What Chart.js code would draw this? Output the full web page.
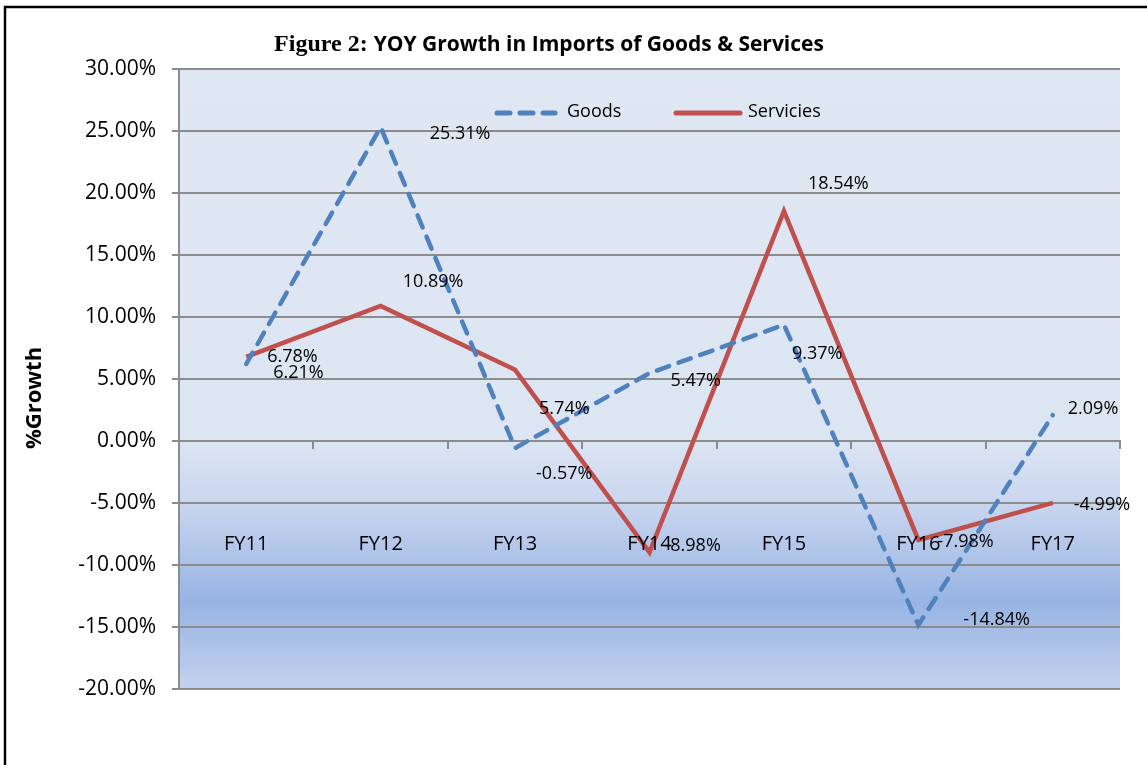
<!DOCTYPE html>
<html>
<head>
<meta charset="utf-8">
<script src="https://cdn.jsdelivr.net/npm/chart.js@4.4.1/dist/chart.umd.min.js"></script>
<style>
  html, body { margin: 0; padding: 0; background: #fff; }
  #wrap { width: 1147px; height: 765px; }
</style>
</head>
<body>
<div id="wrap"><canvas id="growthChart" width="1147" height="765"></canvas></div>
<script>
// data
const years = ["FY11", "FY12", "FY13", "FY14", "FY15", "FY16", "FY17"];
const goods = [6.21, 25.31, -0.57, 5.47, 9.37, -14.84, 2.09];
const services = [6.78, 10.89, 5.74, -8.98, 18.54, -7.98, -4.99];

// where each value label sits, relative to its point (left edge, middle)
const goodsLabelPos = [[27, 9], [49, 7], [21, 26], [21, 8], [8, 29], [45, -5], [15, -6]];
const servicesLabelPos = [[21, 0], [22, -24], [24, 39], [15, -6], [24, -27], [19, 2], [21, 2]];

const BLUE = "#4f81bd";
const RED = "#c0504d";
const GRID = "#8c8c8c";
const SANS = "'Open Sans', sans-serif";

const pct = v => v.toFixed(2) + "%";

const decor = {
    id: "decor",
    beforeDraw(chart) {
        const { ctx, chartArea: a } = chart;
        ctx.save();
        ctx.fillStyle = "#fff";
        ctx.fillRect(0, 0, chart.width, chart.height);
        // outer frame, runs off the right and bottom edges
        ctx.strokeStyle = "#000";
        ctx.lineWidth = 2.5;
        ctx.strokeRect(5, 7, chart.width + 20, chart.height + 20);
        // plot area fill
        const g = ctx.createLinearGradient(0, a.top, 0, a.bottom);
        g.addColorStop(0, "#dfe7f3");
        g.addColorStop(0.6, "#dce5f2");
        g.addColorStop(0.7, "#c9d6ef");
        g.addColorStop(0.86, "#97b4e3");
        g.addColorStop(1, "#c4d2ee");
        ctx.fillStyle = g;
        ctx.fillRect(a.left, a.top, a.right - a.left, a.bottom - a.top);
        ctx.restore();
    },
    afterDatasetsDraw(chart) {
        const { ctx } = chart;
        ctx.save();

        // value labels
        ctx.fillStyle = "#000";
        ctx.font = "18px " + SANS;
        ctx.textAlign = "left";
        ctx.textBaseline = "middle";
        const sets = [goodsLabelPos, servicesLabelPos];
        chart.data.datasets.forEach((ds, i) => {
            chart.getDatasetMeta(i).data.forEach((pt, j) => {
                const off = sets[i][j];
                ctx.fillText(pct(ds.data[j]), pt.x + off[0], pt.y + off[1]);
            });
        });

        // title: serif part then sans part
        ctx.textBaseline = "alphabetic";
        const part1 = "Figure 2: ";
        const part2 = "YOY Growth in Imports of Goods & Services";
        ctx.font = "bold 24px 'Liberation Serif', serif";
        const w1 = ctx.measureText(part1).width;
        ctx.font = "bold 21px " + SANS;
        const w2 = ctx.measureText(part2).width;
        let tx = 549 - (w1 + w2) / 2;
        ctx.font = "bold 24px 'Liberation Serif', serif";
        ctx.fillText(part1, tx, 51);
        ctx.font = "bold 21px " + SANS;
        ctx.fillText(part2, tx + w1, 51);

        // y axis title
        ctx.save();
        ctx.translate(35, 398);
        ctx.rotate(-Math.PI / 2);
        ctx.textAlign = "center";
        ctx.textBaseline = "middle";
        ctx.font = "bold 22px " + SANS;
        ctx.fillText("%Growth", 0, 0);
        ctx.restore();

        // legend
        ctx.lineWidth = 5;
        ctx.lineCap = "round";
        ctx.strokeStyle = chart.data.datasets[0].borderColor;
        ctx.setLineDash([13, 10]);
        ctx.beginPath();
        ctx.moveTo(497, 113);
        ctx.lineTo(555, 113);
        ctx.stroke();
        ctx.setLineDash([]);
        ctx.strokeStyle = chart.data.datasets[1].borderColor;
        ctx.beginPath();
        ctx.moveTo(676, 113);
        ctx.lineTo(740, 113);
        ctx.stroke();
        ctx.font = "18px " + SANS;
        ctx.textBaseline = "middle";
        ctx.fillText(chart.data.datasets[0].label, 567, 112);
        ctx.fillText(chart.data.datasets[1].label, 748, 112);

        ctx.restore();
    }
};

new Chart(document.getElementById("growthChart"), {
    type: "line",
    data: {
        labels: years,
        datasets: [
            {
                label: "Goods",
                data: goods,
                borderColor: BLUE,
                borderWidth: 4.5,
                borderDash: [13, 10],
                borderCapStyle: "round",
                pointRadius: 0,
                tension: 0,
                fill: false
            },
            {
                label: "Servicies",
                data: services,
                borderColor: RED,
                borderWidth: 4.5,
                borderJoinStyle: "miter",
                pointRadius: 0,
                tension: 0,
                fill: false
            }
        ]
    },
    options: {
        responsive: false,
        animation: false,
        layout: { padding: { left: 0, top: 69, right: 27, bottom: 76 } },
        plugins: {
            legend: { display: false },
            title: { display: false },
            tooltip: { enabled: false }
        },
        scales: {
            x: {
                type: "category",
                offset: true,
                position: { y: 0 },
                afterFit: s => { s.paddingLeft = 0; s.paddingRight = 0; },
                grid: {
                    offset: true,
                    drawOnChartArea: false,
                    drawTicks: true,
                    tickLength: 7,
                    color: GRID,
                    lineWidth: 2
                },
                border: { display: true, color: GRID, width: 2 },
                ticks: {
                    z: 1,
                    color: "#000",
                    padding: 84,
                    maxRotation: 0,
                    font: { family: SANS, size: 20 }
                }
            },
            y: {
                min: -20,
                max: 30,
                afterFit: s => { s.width = 179; },
                grid: { color: GRID, lineWidth: 2, tickLength: 7 },
                border: { display: true, color: GRID, width: 2 },
                ticks: {
                    stepSize: 5,
                    color: "#000",
                    padding: 16,
                    font: { family: SANS, size: 21 },
                    callback: v => pct(v)
                }
            }
        }
    },
    plugins: [decor]
});
</script>
</body>
</html>
